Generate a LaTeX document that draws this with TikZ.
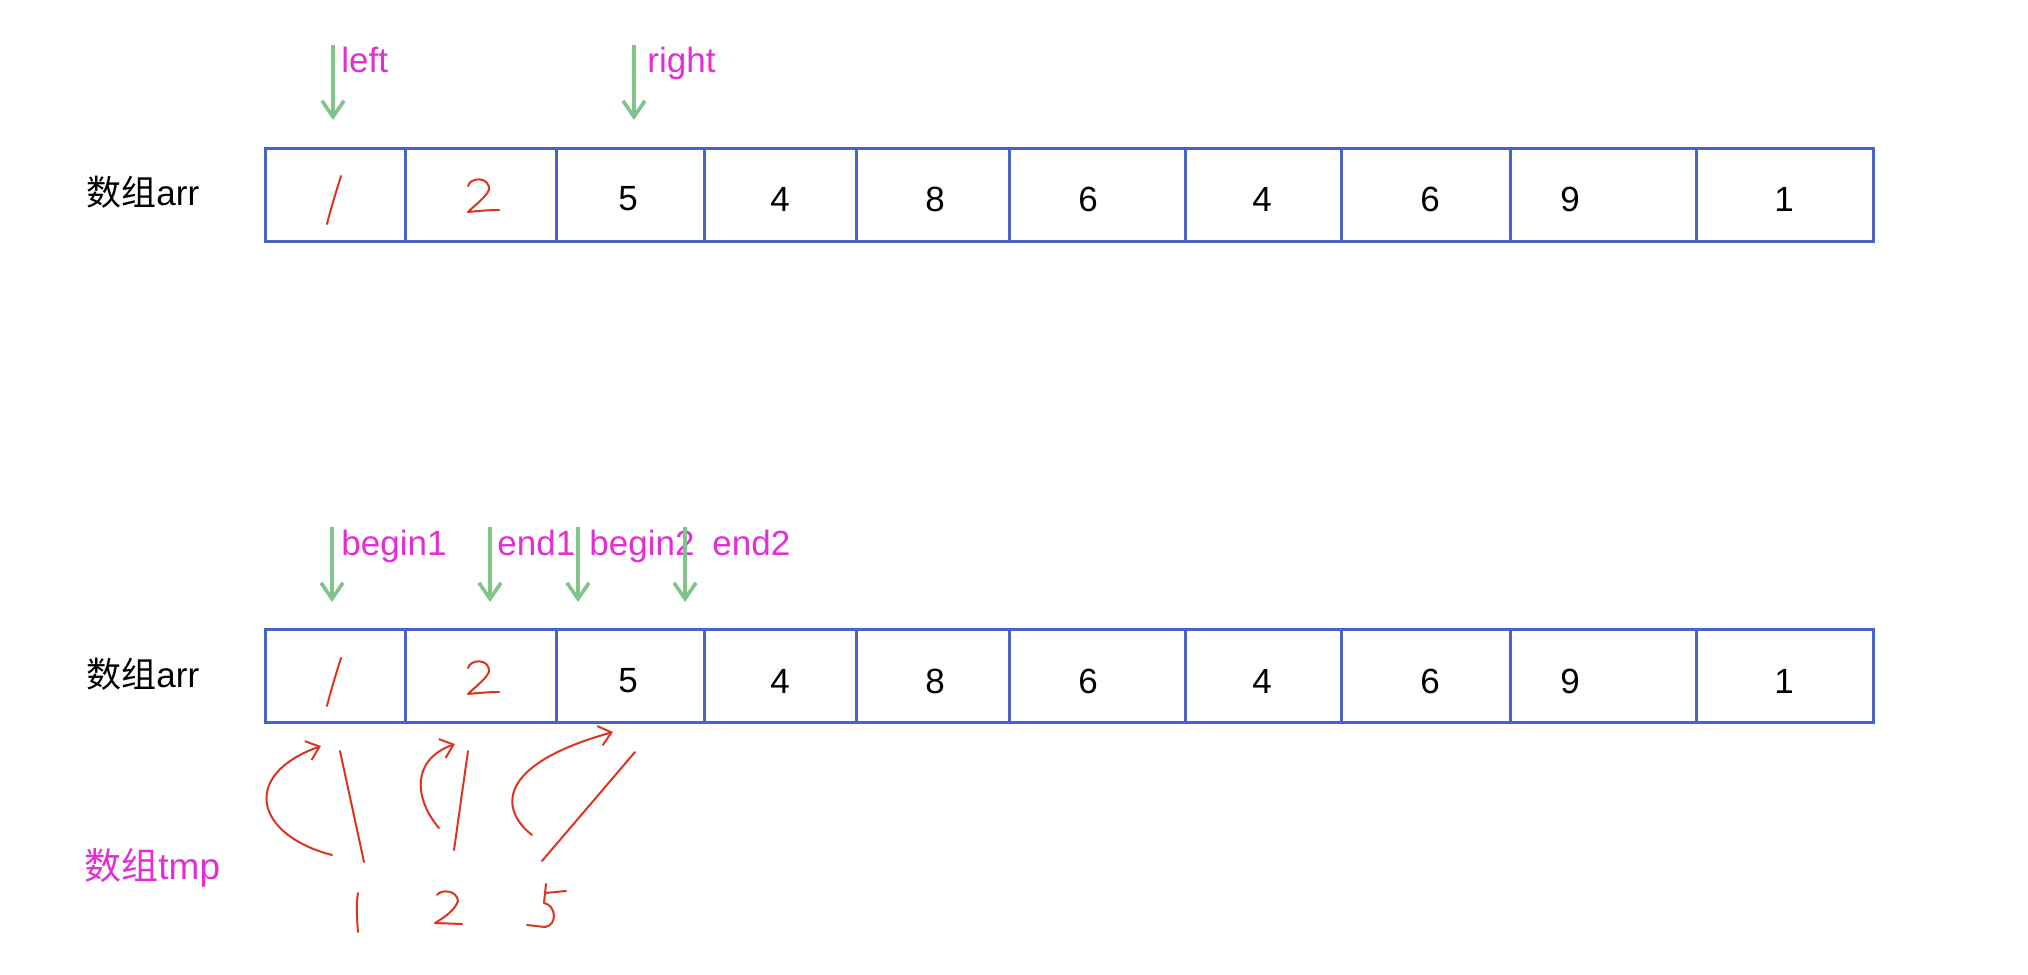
\documentclass[tikz,border=0pt]{standalone}
\usepackage{fontspec}
\setmainfont{Liberation Sans}
\newfontfamily\cjk{Noto Sans CJK SC}
\usetikzlibrary{arrows.meta}
\definecolor{boxblue}{RGB}{72,100,200}
\definecolor{ptrgreen}{RGB}{128,196,140}
\definecolor{lblmag}{RGB}{228,46,212}
\definecolor{inkred}{RGB}{222,52,30}
\begin{document}
\begin{tikzpicture}[x=0.5pt,y=-0.5pt,
  cell/.style={draw=boxblue, line width=1.5pt, inner sep=0pt, minimum height=46.5pt},
  num/.style={inner sep=0pt, font=\fontsize{17.5}{20}\selectfont},
  arrlabel/.style={inner sep=0pt, anchor=base west, font=\fontsize{17.5}{21}\selectfont},
  ptrlabel/.style={inner sep=0pt, anchor=base west, text=lblmag, font=\fontsize{17.5}{21}\selectfont},
  ptr/.style={draw=ptrgreen, line width=1.8pt, -{Straight Barb[length=8pt,width=11pt]}},
  ink/.style={draw=inkred, line width=1pt, line cap=round, line join=round},
  inkarrow/.style={ink, -{Straight Barb[length=6pt,width=10pt]}}]
\useasboundingbox (0,0) rectangle (2028,974);
\fill[white] (0,0) rectangle (2028,974);

% array cells
\foreach \l/\r [count=\i] in {265/405,405/556,556/704,704/856,856/1009,1009/1185,1185/1341,1341/1510,1510/1696,1696/1873}{
  \node[cell, minimum width={(\r-\l)*0.5pt}] (a\i) at ({(\l+\r)/2},194.5) {};
  \node[cell, minimum width={(\r-\l)*0.5pt}] (b\i) at ({(\l+\r)/2},676) {};
}

% printed values
\foreach \v/\x [count=\i from 3] in {5/628,4/780,8/935,6/1088,4/1262,6/1430,9/1570,1/1784}{
  \node[num] (ta\i) at (\x,199) {\v};
  \node[num] (tb\i) at (\x,681) {\v};
}

% handwritten values in cells 1 and 2
\foreach \dy in {0,482}{
  \draw[ink] (341,{176+\dy}) .. controls (336,{192+\dy}) and (331,{208+\dy}) .. (327,{224+\dy});
  \draw[ink] (468,{186+\dy}) .. controls (470,{177+\dy}) and (490,{176+\dy}) .. (489,{190+\dy})
     .. controls (485,{198+\dy}) and (475,{205+\dy}) .. (468,{212+\dy})
     .. controls (478,{211+\dy}) and (489,{210+\dy}) .. (499,{210+\dy});
}

% row labels
\node[arrlabel] (arr1) at (86,205) {{\cjk 数组}arr};
\node[arrlabel] (arr2) at (86,687) {{\cjk 数组}arr};
\node[ptrlabel, font=\fontsize{18.5}{22}\selectfont] (tmp) at (84,879) {{\cjk 数组}tmp};

% pointer labels
\node[ptrlabel] (lleft) at (341,73) {left};
\node[ptrlabel] (lright) at (647,73) {right};
\node[ptrlabel] (lb1) at (341,555) {begin1};
\node[ptrlabel] (le1) at (497,555) {end1};
\node[ptrlabel] (lb2) at (589,555) {begin2};
\node[ptrlabel] (le2) at (712,555) {end2};

% pointer arrows
\foreach \n/\x/\ya/\yb in {pl/333/45/120, pr/634/45/120, pb1/332/527/602, pe1/490/527/602, pb2/578/527/602, pe2/685/527/602}{
  \coordinate (\n-s) at (\x,\ya);
  \coordinate (\n-e) at (\x,\yb);
  \draw[ptr] (\n-s) -- (\n-e);
}

% copy arrows into tmp
\coordinate (c1s) at (332,855); \coordinate (c1e) at (321,746);
\coordinate (c2s) at (439,828); \coordinate (c2e) at (455,744);
\coordinate (c3s) at (532,835); \coordinate (c3e) at (613,732);
\draw[inkarrow] (c1s) .. controls (255,835) and (240,775) .. (c1e);
\draw[inkarrow] (c2s) .. controls (415,800) and (410,760) .. (c2e);
\draw[inkarrow] (c3s) .. controls (500,810) and (495,765) .. (c3e);

\coordinate (l1s) at (340,751); \coordinate (l1e) at (364,862);
\coordinate (l2s) at (468,751); \coordinate (l2e) at (454,850);
\coordinate (l3s) at (635,752); \coordinate (l3e) at (542,861);
\draw[ink] (l1s) -- (l1e);
\draw[ink] (l2s) -- (l2e);
\draw[ink] (l3s) -- (l3e);

% handwritten tmp values
\draw[ink] (358,893) .. controls (356,905) and (357,920) .. (358,932);
\draw[ink] (437,895) .. controls (441,889) and (457,890) .. (458,901)
   .. controls (455,910) and (445,917) .. (435,923) -- (462,924);
\draw[ink] (546,884) -- (544,903) .. controls (556,905) and (558,925) .. (545,927) -- (527,925);
\draw[ink] (545,893) -- (566,891);
\end{tikzpicture}
\end{document}
